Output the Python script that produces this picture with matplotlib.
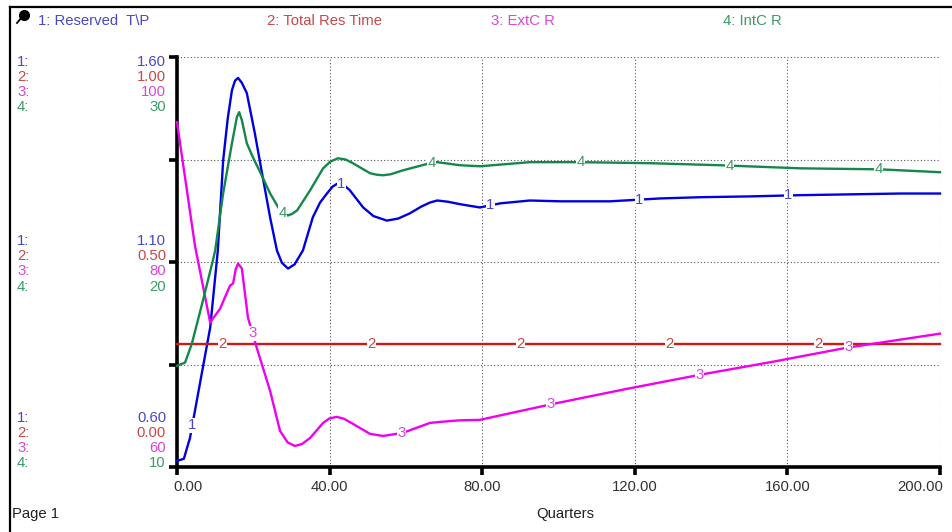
import matplotlib
matplotlib.use("Agg")
import matplotlib.pyplot as plt
import numpy as np
from matplotlib.lines import Line2D

plt.rcParams['font.family'] = ['Liberation Sans', 'DejaVu Sans']

W, H = 952, 532
FS = 10.7

# series 1: Reserved T\P (scale 0.60 - 1.60)
t1 = [0, 1.8, 3.4, 6.0, 8.7, 10.7, 12.1, 13.3, 14.4, 15.2, 16.0, 17.0, 18.3, 20.4, 22.3,
      24.4, 26.2, 27.5, 29.1, 30.8, 33.0, 35.6, 37.5, 39.3, 40.8, 42.2, 43.7, 45.3, 48.8,
      51.5, 55.0, 58.0, 61.1, 64.0, 66.3, 68.2, 71.0, 74.2, 79.4, 84.7, 92.5,
      100.4, 113.5, 126.6, 137.1, 150.2, 163.3, 176.4, 189.5, 200]
v1 = [0.615, 0.620, 0.671, 0.803, 0.940, 1.128, 1.348, 1.450, 1.519, 1.542, 1.549, 1.537,
      1.512, 1.414, 1.316, 1.209, 1.128, 1.098, 1.084, 1.094, 1.128, 1.209, 1.245, 1.267,
      1.284, 1.292, 1.288, 1.275, 1.233, 1.212, 1.201, 1.206, 1.219, 1.235, 1.245, 1.250,
      1.247, 1.241, 1.233, 1.243, 1.250, 1.248, 1.248, 1.255, 1.258, 1.260, 1.263, 1.265,
      1.267, 1.267]

# series 2: Total Res Time (scale 0.00 - 1.00)
t2 = [0, 200]
v2 = [0.30, 0.30]

# series 3: ExtC R (scale 60 - 100)
t3 = [0, 4.7, 8.7, 9.4, 11.3, 13.9, 14.7, 15.4, 16.0, 17.0, 18.6, 20.9, 24.4, 27.0, 29.0,
      30.9, 32.8, 34.9, 38.3, 40.0, 41.9, 43.8, 46.1, 50.6, 54.0, 59.2, 66.3, 69.0, 74.0,
      79.4, 88.0, 98.6, 118.0, 137.1, 156.2, 175.6, 200]
v3 = [93.64, 81.61, 74.08, 74.47, 75.45, 77.70, 77.90, 79.30, 79.85, 79.36, 74.57, 71.64,
      67.43, 63.52, 62.40, 62.05, 62.25, 62.84, 64.30, 64.75, 64.89, 64.70, 64.21, 63.23,
      63.03, 63.33, 64.30, 64.40, 64.55, 64.60, 65.30, 66.16, 67.63, 69.00, 70.27, 71.64,
      73.01]

# series 4: IntC R (scale 10 - 30)
t4 = [0, 2.1, 3.9, 6.8, 9.4, 10.0, 12.1, 14.4, 15.7, 16.3, 17.0, 18.3, 19.9, 21.8, 24.4,
      27.0, 28.0, 29.1, 30.2, 31.5, 34.9, 38.3, 40.2, 42.2, 44.2, 46.1, 50.6, 52.3, 54.0,
      56.0, 59.2, 66.3, 68.2, 74.2, 79.4, 92.5, 105.6, 124.0, 142.3, 163.3, 184.3, 200]
v4 = [14.94, 15.09, 16.02, 18.12, 20.07, 20.56, 23.35, 25.79, 27.07, 27.31, 26.92, 25.79,
      25.11, 24.38, 23.35, 22.52, 22.35, 22.27, 22.35, 22.52, 23.50, 24.57, 24.90, 25.06,
      25.00, 24.82, 24.33, 24.26, 24.23, 24.28, 24.47, 24.82, 24.87, 24.72, 24.67, 24.87,
      24.87, 24.82, 24.72, 24.57, 24.52, 24.38]

names = ["1: Reserved  T\\P", "2: Total Res Time", "3: ExtC R", "4: IntC R"]
scale_top = ["1.60", "1.00", "100", "30"]
scale_mid = ["1.10", "0.50", "80", "20"]
scale_bot = ["0.60", "0.00", "60", "10"]
ranges = [(0.6, 1.6), (0.0, 1.0), (60, 100), (10, 30)]
xticks = [0, 40, 80, 120, 160, 200]
xtick_labels = ["0.00", "40.00", "80.00", "120.00", "160.00", "200.00"]

line_colors = ["#0000E0", "#D01818", "#F000F0", "#14884A"]
text_colors = ["#4848C8", "#C84848", "#D848D8", "#3C9A68"]
series = [(t1, v1), (t2, v2), (t3, v3), (t4, v4)]


def fx(x):
    return x / W


def fy(y):
    return 1 - y / H


fig = plt.figure(figsize=(W / 100, H / 100), dpi=100)
fig.patch.set_facecolor("white")

pos = [fx(177), fy(467), fx(940) - fx(177), fy(57) - fy(467)]
ax = fig.add_axes(pos)
ax.set_xlim(0, 200)
ax.set_ylim(0, 1)
for s in ["top", "right"]:
    ax.spines[s].set_visible(False)
for s in ["left", "bottom"]:
    ax.spines[s].set_linewidth(2.6)
ax.set_xticks(xticks)
ax.set_xticklabels([])
ax.set_yticks([0, 0.25, 0.5, 0.75, 1.0])
ax.set_yticklabels([])
ax.tick_params(axis="both", direction="out", length=6, width=2.6, color="black")
ax.grid(True, linestyle=(0, (1, 2)), color="#555555", linewidth=0.8)

# x tick labels
for xv, lab in zip(xticks, xtick_labels):
    ha = "left" if xv == 0 else ("right" if xv == 200 else "center")
    xpix = 177 + xv * (940 - 177) / 200
    if xv == 0:
        xpix = 173
    elif xv == 200:
        xpix = 943
    fig.text(fx(xpix), fy(487), lab, ha=ha, va="center", fontsize=FS, color="#333333")

fig.text(fx(565), fy(514), "Quarters", ha="center", va="center", fontsize=FS, color="#222222")
fig.text(fx(12), fy(514), "Page 1", ha="left", va="center", fontsize=FS, color="#222222")

# left scale labels
groups = [(scale_top, [62, 77, 92, 107]), (scale_mid, [241, 256, 271, 287]),
          (scale_bot, [418, 433, 448, 463])]
for labels, ys in groups:
    for i, (lab, yy) in enumerate(zip(labels, ys)):
        fig.text(fx(17), fy(yy), f"{i + 1}:", ha="left", va="center", fontsize=FS,
                 color=text_colors[i])
        fig.text(fx(166), fy(yy), lab, ha="right", va="center", fontsize=FS,
                 color=text_colors[i])

# header legend
header_x = [38, 267, 491, 723]
for i, name in enumerate(names):
    fig.text(fx(header_x[i]), fy(21), name, ha="left", va="center", fontsize=FS,
             color=text_colors[i])

# series on their own scales
for i, ((tt, vv), (lo, hi)) in enumerate(zip(series, ranges)):
    a = fig.add_axes(pos, frameon=False)
    a.set_xlim(0, 200)
    a.set_ylim(lo, hi)
    a.set_xticks([])
    a.set_yticks([])
    a.plot(tt, vv, color=line_colors[i], linewidth=1.7, clip_on=False, zorder=2,
           solid_joinstyle="round")
    for k in range(5):
        tl = 4 + 7.9 * i + 39.05 * k
        yl = np.interp(tl, tt, vv)
        a.text(tl, yl, str(i + 1), ha="center", va="center", fontsize=FS,
               color=text_colors[i], zorder=3,
               bbox=dict(facecolor="white", edgecolor="none", pad=0.2))

# outer frame and pin icon
fig.add_artist(Line2D([fx(10), 1.0], [fy(7), fy(7)], color="black", linewidth=1.6,
                      transform=fig.transFigure))
fig.add_artist(Line2D([fx(10), fx(10)], [fy(7), 0.0], color="black", linewidth=1.6,
                      transform=fig.transFigure))
fig.add_artist(Line2D([fx(17), fx(22)], [fy(23), fy(17)], color="black", linewidth=1.3,
                      transform=fig.transFigure))
fig.add_artist(Line2D([fx(24)], [fy(15)], marker="o", markersize=7, color="black",
                      transform=fig.transFigure))

fig.savefig("out.png", dpi=100)
